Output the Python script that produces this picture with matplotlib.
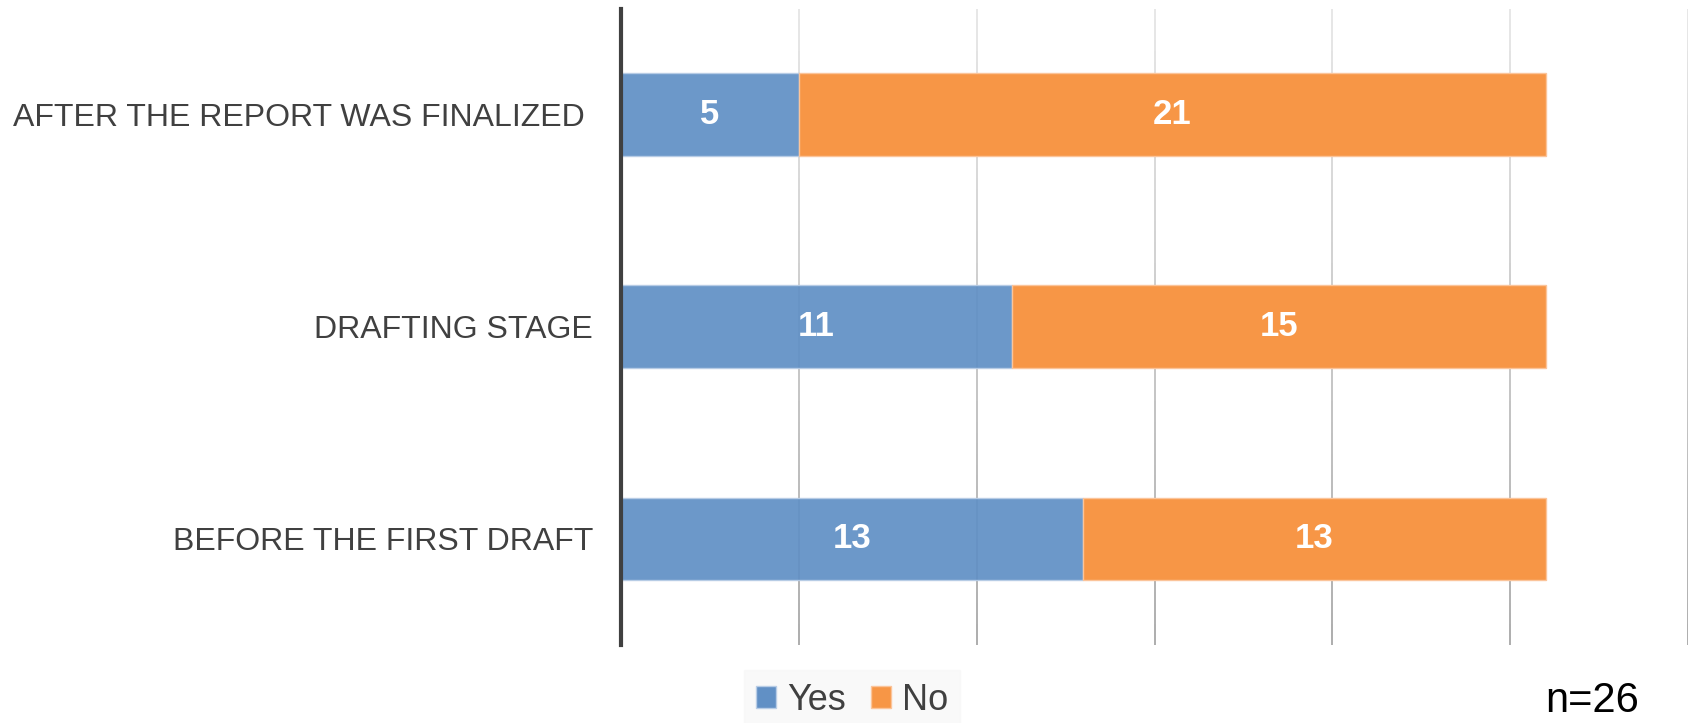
import matplotlib
matplotlib.use("Agg")
import matplotlib.pyplot as plt
from matplotlib.collections import LineCollection
from matplotlib.patches import Patch
import numpy as np

categories = ["AFTER THE REPORT WAS FINALIZED ", "DRAFTING STAGE", "BEFORE THE FIRST DRAFT"]
yes_vals = [5, 11, 13]
no_vals = [21, 15, 13]
series_names = ["Yes", "No"]
n_label = "n=26"

blue = "#6190C5"
orange = "#F79646"

plt.rcParams['font.family'] = ['Liberation Sans', 'DejaVu Sans']

fig = plt.figure(figsize=(16.92, 7.23), dpi=100)
ax = fig.add_axes([621/1692, 1-645/723, (1688-621)/1692, (645-8.6)/723])

ypos = np.arange(len(categories))
ax.set_xlim(0, 30)
ax.set_ylim(len(categories)-0.5, -0.5)

# gradient gridlines
segs, cols = [], []
nseg = 60
ys = np.linspace(-0.5, len(categories)-0.5, nseg+1)
top_c = np.array([0.89, 0.89, 0.89])
bot_c = np.array([0.62, 0.62, 0.62])
for xv in range(5, 31, 5):
    for i in range(nseg):
        segs.append([(xv, ys[i]), (xv, ys[i+1])])
        t = (ys[i] + 0.5) / len(categories)
        cols.append(tuple(top_c + (bot_c - top_c) * t))
lc = LineCollection(segs, colors=cols, linewidths=1.2, zorder=1)
ax.add_collection(lc)

h = 0.39
ax.barh(ypos, yes_vals, height=h, color=blue, alpha=0.93, edgecolor="#b8cde6", linewidth=1.0, zorder=2)
ax.barh(ypos, no_vals, left=yes_vals, height=h, color=orange, edgecolor="#fbc49a", linewidth=1.0, zorder=3)

for y, a, b in zip(ypos, yes_vals, no_vals):
    ax.text(a/2, y, str(a), ha="center", va="center", color="white", fontsize=25, fontweight="bold", zorder=4)
    ax.text(a + b/2, y, str(b), ha="center", va="center", color="white", fontsize=25, fontweight="bold", zorder=4)

ax.set_yticks(ypos)
ax.set_yticklabels(categories, fontsize=23, color="#404040")
ax.tick_params(axis="y", length=0, pad=20)
ax.set_xticks([])
for s in ["top", "right", "bottom"]:
    ax.spines[s].set_visible(False)
ax.spines["left"].set_color("#404040")
ax.spines["left"].set_linewidth(3)
ax.spines["left"].set_zorder(5)

handles = [Patch(facecolor=blue, edgecolor="#b8cde6"), Patch(facecolor=orange, edgecolor="#fbc49a")]
leg = fig.legend(handles, series_names, loc="center", bbox_to_anchor=(852/1692, 1-700/723),
                 ncol=2, fontsize=26, frameon=True, fancybox=False,
                 handlelength=0.55, handleheight=0.55, handletextpad=0.3, columnspacing=0.7,
                 borderpad=0.35, labelcolor="#404040")
leg.get_frame().set_facecolor("#f8f8f8")
leg.get_frame().set_edgecolor("#f8f8f8")

fig.text(1592/1692, 1-701/723, n_label, ha="center", va="center", fontsize=30, color="black")

fig.savefig("out.png", dpi=100)
